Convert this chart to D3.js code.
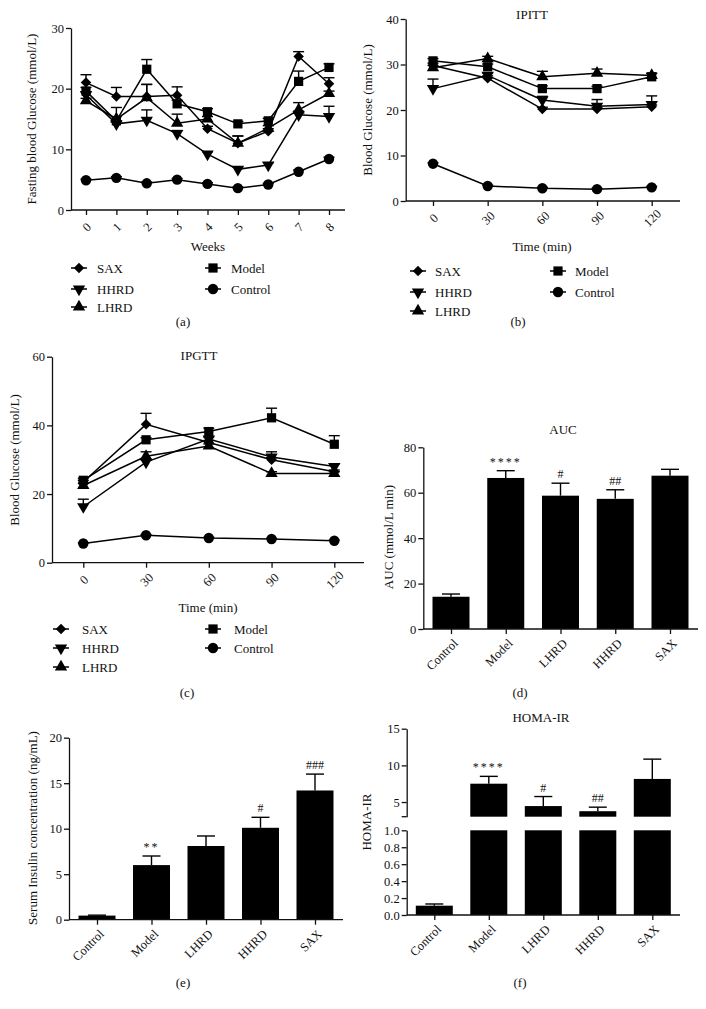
<!DOCTYPE html>
<html><head><meta charset="utf-8">
<script src="https://cdn.jsdelivr.net/npm/d3@7"></script>
<style>
body{margin:0;background:#fff}
svg{display:block}
text{font-family:"Liberation Serif","Times New Roman",serif;fill:#111}
</style>
</head><body>
<svg id="chart" width="706" height="1009"></svg>
<script>
// ---------- DATA ----------
const weeks = [0,1,2,3,4,5,6,7,8];
const weekTicks = ["0","1","2","3","4","5","6","7","8"];
const fbgSAX      = [21.0,18.7,18.7,18.9,13.4,11.0,13.0,25.3,20.8];
const fbgSAXErr   = [1.3,1.5,2.0,1.4,0.4,1.2,0.4,0.8,1.0];
const fbgModel    = [19.6,14.7,23.2,17.5,16.2,14.2,14.7,21.2,23.5];
const fbgModelErr = [0.6,2.2,1.6,0.6,0.5,0.4,0.4,1.7,0.6];
const fbgHHRD     = [19.0,14.2,14.8,12.6,9.2,6.7,7.4,15.7,15.4];
const fbgHHRDErr  = [0.5,0.4,1.7,0.5,0.4,0.4,0.4,0.6,1.7];
const fbgLHRD     = [18.0,15.0,18.5,14.3,15.0,11.0,13.5,16.5,19.2];
const fbgLHRDErr  = [0.4,0.4,2.2,1.5,0.4,1.2,0.4,1.2,0.4];
const fbgControl  = [4.9,5.3,4.4,5.0,4.3,3.6,4.2,6.3,8.4];
const fbgControlErr = [0.2,0.2,0.2,0.2,0.2,0.2,0.2,0.3,0.3];

const times = [0,30,60,90,120];
const timeTicks = ["0","30","60","90","120"];
const ipittSAX      = [29.8,27.0,20.2,20.2,20.7];
const ipittSAXErr   = [0.5,0.5,0.4,0.4,0.4];
const ipittModel    = [30.8,29.5,24.7,24.7,27.3];
const ipittModelErr = [0.5,0.6,0.6,0.5,0.7];
const ipittHHRD     = [24.7,27.6,22.2,20.8,21.2];
const ipittHHRDErr  = [2.1,0.5,0.8,1.5,1.9];
const ipittLHRD     = [29.3,31.3,27.3,28.1,27.6];
const ipittLHRDErr  = [0.5,0.5,1.2,0.9,0.5];
const ipittControl  = [8.2,3.3,2.8,2.6,3.0];
const ipittControlErr = [0.2,0.2,0.2,0.2,0.2];

const ipgttSAX      = [23.5,40.3,35.0,30.0,26.5];
const ipgttSAXErr   = [0.5,3.2,0.6,0.6,0.5];
const ipgttModel    = [24.0,35.8,38.2,42.2,34.5];
const ipgttModelErr = [0.6,0.6,1.0,2.8,2.5];
const ipgttHHRD     = [16.3,29.3,36.0,30.8,28.0];
const ipgttHHRDErr  = [2.2,0.6,0.6,1.5,0.8];
const ipgttLHRD     = [22.5,31.0,34.0,26.0,26.0];
const ipgttLHRDErr  = [0.6,1.3,0.6,0.5,0.5];
const ipgttControl  = [5.6,8.0,7.2,6.9,6.4];
const ipgttControlErr = [0.2,0.2,0.2,0.2,0.2];

const seriesNames = ["SAX","Model","HHRD","Control","LHRD"];
const groups = ["Control","Model","LHRD","HHRD","SAX"];
const aucValues = [14.2,66.5,58.7,57.3,67.5];
const aucErr    = [1.2,3.2,5.5,4.0,2.8];
const aucMarks  = ["","****","#","##",""];
const insulinValues = [0.45,6.0,8.1,10.1,14.2];
const insulinErr    = [0.05,1.0,1.1,1.15,1.8];
const insulinMarks  = ["","**","","#","###"];
const homaValues = [0.11,7.5,4.45,3.75,8.15];
const homaErr    = [0.02,1.0,1.3,0.55,2.7];
const homaMarks  = ["","****","#","##",""];
const homaUpperTicks = [5,10,15];
const homaLowerTicks = [0,0.2,0.4,0.6,0.8,1.0];

// ---------- HELPERS ----------
const svg = d3.select("#chart");
const FS_TICK = 12.5, FS_LAB = 13, FS_LEG = 13;
const shapeOf = {SAX:"diamond", Model:"square", HHRD:"down", LHRD:"up", Control:"circle"};

function marker(g, type, x, y){
  let p, rot = 0;
  if(type==="diamond"){ p = d3.symbol(d3.symbolSquare, 55)(); rot = 45; }
  else if(type==="square"){ p = d3.symbol(d3.symbolSquare, 85)(); }
  else if(type==="up"){ p = d3.symbol(d3.symbolTriangle, 66)(); }
  else if(type==="down"){ p = d3.symbol(d3.symbolTriangle, 66)(); rot = 180; }
  else { p = d3.symbol(d3.symbolCircle, 85)(); }
  g.append("path").attr("d", p).attr("fill","#000")
    .attr("transform", `translate(${x},${y}) rotate(${rot})`);
}

function yAxis(g, scale, x, ticks, fmt){
  const ax = d3.axisLeft(scale).tickValues(ticks).tickSize(5).tickSizeOuter(0).tickFormat(fmt || d3.format("d"));
  const a = g.append("g").attr("transform",`translate(${x},0)`).call(ax);
  a.attr("font-family",null);
  a.selectAll("path,line").attr("stroke","#111").attr("stroke-width",1.3);
  a.selectAll("text").attr("font-size",FS_TICK).attr("font-family","Liberation Serif").attr("fill","#111").attr("x",-7);
  return a;
}

function vLabel(g, txt, x, y){
  g.append("text").attr("transform",`translate(${x},${y}) rotate(-90)`)
   .attr("text-anchor","middle").attr("font-size",FS_LAB).text(txt);
}
function cText(g, txt, x, y, size){
  g.append("text").attr("x",x).attr("y",y).attr("text-anchor","middle")
   .attr("font-size",size||FS_LAB).text(txt);
}

function linePanel(opt){
  const g = svg.append("g");
  const x = d3.scaleLinear().domain(opt.xDomain).range(opt.xRange);
  const y = d3.scaleLinear().domain(opt.yDomain).range(opt.yRange);
  g.append("line").attr("x1",opt.axisX0).attr("x2",opt.axisX1)
    .attr("y1",y(0)).attr("y2",y(0)).attr("stroke","#111").attr("stroke-width",1.3);
  const xa = d3.axisBottom(x).tickValues(opt.xVals).tickSize(5).tickFormat((d,i)=>opt.xTicks[i]);
  const xg = g.append("g").attr("transform",`translate(0,${y(0)})`).call(xa);
  xg.attr("font-family",null);
  xg.select(".domain").remove();
  xg.selectAll("line").attr("stroke","#111").attr("stroke-width",1.3);
  xg.selectAll("text").attr("font-size",FS_TICK).attr("font-family","Liberation Serif").attr("fill","#111")
    .attr("text-anchor","middle").attr("y",0).attr("dy","0.35em")
    .attr("transform","translate(0,17) rotate(-45)");
  yAxis(g, y, opt.axisX0, opt.yTicks);
  opt.series.forEach(s=>{
    const line = d3.line().x((d,i)=>x(opt.xVals[i])).y(d=>y(d));
    g.append("path").attr("d", line(s.values)).attr("fill","none")
      .attr("stroke","#000").attr("stroke-width",1.5);
    s.values.forEach((v,i)=>{
      const cx = x(opt.xVals[i]), top = y(v + s.err[i]);
      g.append("line").attr("x1",cx).attr("x2",cx).attr("y1",y(v)).attr("y2",top)
        .attr("stroke","#000").attr("stroke-width",1.4);
      g.append("line").attr("x1",cx-5.5).attr("x2",cx+5.5).attr("y1",top).attr("y2",top)
        .attr("stroke","#000").attr("stroke-width",1.4);
    });
  });
  opt.series.forEach(s=>{
    s.values.forEach((v,i)=> marker(g, shapeOf[s.name], x(opt.xVals[i]), y(v)));
  });
  if(opt.title) cText(g, opt.title, opt.titleX, opt.titleY);
  vLabel(g, opt.yLabel, opt.yLabelX, opt.yLabelY);
  cText(g, opt.xLabel, opt.xLabelX, opt.xLabelY);
  const L = opt.legend;
  const items = [["SAX",L.c1,L.r[0]],["HHRD",L.c1,L.r[1]],["LHRD",L.c1,L.r[2]],["Model",L.c2,L.r[0]],["Control",L.c2,L.r[1]]];
  items.forEach(([nm,cx,cy])=>{
    g.append("line").attr("x1",cx-8).attr("x2",cx+8).attr("y1",cy).attr("y2",cy)
      .attr("stroke","#000").attr("stroke-width",1.5);
    marker(g, shapeOf[nm], cx, cy);
    g.append("text").attr("x",cx+L.gap).attr("y",cy).attr("dy","0.35em")
      .attr("font-size",FS_LEG).text(nm);
  });
  cText(g, opt.panel, opt.panelX, opt.panelY);
}

function barMarks(g, cx, top, mark){
  if(!mark) return;
  g.append("text").attr("x",cx).attr("y",top-5).attr("text-anchor","middle")
    .attr("font-size",12).attr("fill","#333").attr("letter-spacing",mark[0]==="*"?2:0).text(mark);
}

function catAxis(g, x, y0, axX0, axX1){
  g.append("line").attr("x1",axX0).attr("x2",axX1).attr("y1",y0).attr("y2",y0)
    .attr("stroke","#111").attr("stroke-width",1.3);
  const xa = d3.axisBottom(x).tickSize(5);
  const xg = g.append("g").attr("transform",`translate(0,${y0})`).call(xa);
  xg.attr("font-family",null);
  xg.select(".domain").remove();
  xg.selectAll("line").attr("stroke","#111").attr("stroke-width",1.3);
  xg.selectAll("text").attr("font-size",FS_TICK).attr("font-family","Liberation Serif").attr("fill","#111")
    .attr("text-anchor","end").attr("y",0).attr("dy","0.35em")
    .attr("transform","translate(4,12) rotate(-45)");
}

function barPanel(opt){
  const g = svg.append("g");
  const x = d3.scalePoint().domain(groups).range(opt.xRange);
  const y = d3.scaleLinear().domain(opt.yDomain).range(opt.yRange);
  const bw = 37;
  opt.values.forEach((v,i)=>{
    const cx = x(groups[i]);
    const top = y(v + opt.err[i]);
    g.append("line").attr("x1",cx).attr("x2",cx).attr("y1",y(v)).attr("y2",top).attr("stroke","#000").attr("stroke-width",1.4);
    g.append("line").attr("x1",cx-9).attr("x2",cx+9).attr("y1",top).attr("y2",top).attr("stroke","#000").attr("stroke-width",1.4);
    g.append("rect").attr("x",cx-bw/2).attr("width",bw).attr("y",y(v)).attr("height",y(0)-y(v)).attr("fill","#000");
    barMarks(g, cx, top, opt.marks[i]);
  });
  catAxis(g, x, y(0), opt.axisX0, opt.axisX1);
  yAxis(g, y, opt.axisX0, opt.yTicks);
  if(opt.title) cText(g, opt.title, opt.titleX, opt.titleY);
  vLabel(g, opt.yLabel, opt.yLabelX, opt.yLabelY);
  cText(g, opt.panel, opt.panelX, opt.panelY);
}

const mk = (names, arrs, errs) => names.map((n,i)=>({name:n, values:arrs[i], err:errs[i]}));

// (a)
linePanel({
  xDomain:[0,8], xRange:[86,329], yDomain:[0,30], yRange:[210,28],
  axisX0:71, axisX1:345, xVals:weeks, xTicks:weekTicks, yTicks:[0,10,20,30],
  series: mk(seriesNames,[fbgSAX,fbgModel,fbgHHRD,fbgControl,fbgLHRD],[fbgSAXErr,fbgModelErr,fbgHHRDErr,fbgControlErr,fbgLHRDErr]),
  yLabel:"Fasting blood Glucose (mmol/L)", yLabelX:36, yLabelY:119,
  xLabel:"Weeks", xLabelX:208, xLabelY:251,
  legend:{c1:79,c2:213,r:[268,289,307],gap:18},
  panel:"(a)", panelX:183, panelY:326
});
// (b)
linePanel({
  xDomain:[0,120], xRange:[433,651.7], yDomain:[0,40], yRange:[201,19],
  axisX0:405.7, axisX1:680, xVals:times, xTicks:timeTicks, yTicks:[0,10,20,30,40],
  series: mk(seriesNames,[ipittSAX,ipittModel,ipittHHRD,ipittControl,ipittLHRD],[ipittSAXErr,ipittModelErr,ipittHHRDErr,ipittControlErr,ipittLHRDErr]),
  title:"IPITT", titleX:532, titleY:19,
  yLabel:"Blood Glucose (mmol/L)", yLabelX:372, yLabelY:110,
  xLabel:"Time (min)", xLabelX:542, xLabelY:251,
  legend:{c1:418,c2:558,r:[271,292,311],gap:17},
  panel:"(b)", panelX:518, panelY:326
});
// (c)
linePanel({
  xDomain:[0,120], xRange:[83.3,334.3], yDomain:[0,60], yRange:[562.7,356.7],
  axisX0:52, axisX1:364, xVals:times, xTicks:timeTicks, yTicks:[0,20,40,60],
  series: mk(seriesNames,[ipgttSAX,ipgttModel,ipgttHHRD,ipgttControl,ipgttLHRD],[ipgttSAXErr,ipgttModelErr,ipgttHHRDErr,ipgttControlErr,ipgttLHRDErr]),
  title:"IPGTT", titleX:199, titleY:360,
  yLabel:"Blood Glucose (mmol/L)", yLabelX:19, yLabelY:460,
  xLabel:"Time (min)", xLabelX:208, xLabelY:612,
  legend:{c1:61,c2:213,r:[629,648,667],gap:21},
  panel:"(c)", panelX:187, panelY:697
});
// (d)
barPanel({
  xRange:[451,670], yDomain:[0,80], yRange:[629,447.3], axisX0:423.3, axisX1:698,
  values:aucValues, err:aucErr, marks:aucMarks, yTicks:[0,20,40,60,80],
  title:"AUC", titleX:563, titleY:434,
  yLabel:"AUC (mmol/L min)", yLabelX:393, yLabelY:537,
  panel:"(d)", panelX:520, panelY:697
});
// (e)
barPanel({
  xRange:[97,315], yDomain:[0,20], yRange:[919.7,737.7], axisX0:69, axisX1:343,
  values:insulinValues, err:insulinErr, marks:insulinMarks, yTicks:[0,5,10,15,20],
  yLabel:"Serum Insulin concentration (ng/mL)", yLabelX:37, yLabelY:828,
  panel:"(e)", panelX:183, panelY:987
});
// (f) broken axis
(function(){
  const g = svg.append("g");
  const x = d3.scalePoint().domain(groups).range([434.3,652.3]);
  const yU = d3.scaleLinear().domain([3,15]).range([816.7,728.7]);
  const yL = d3.scaleLinear().domain([0,1]).range([915,830.3]);
  const bw = 37, ax0 = 406.7;
  homaValues.forEach((v,i)=>{
    const cx = x(groups[i]);
    if(v > 1){
      const top = yU(v + homaErr[i]);
      g.append("line").attr("x1",cx).attr("x2",cx).attr("y1",yU(v)).attr("y2",top).attr("stroke","#000").attr("stroke-width",1.4);
      g.append("line").attr("x1",cx-9).attr("x2",cx+9).attr("y1",top).attr("y2",top).attr("stroke","#000").attr("stroke-width",1.4);
      g.append("rect").attr("x",cx-bw/2).attr("width",bw).attr("y",yU(v)).attr("height",yU(3)-yU(v)).attr("fill","#000");
      g.append("rect").attr("x",cx-bw/2).attr("width",bw).attr("y",yL(1)).attr("height",yL(0)-yL(1)).attr("fill","#000");
      barMarks(g, cx, top, homaMarks[i]);
    } else {
      const top = yL(v + homaErr[i]);
      g.append("line").attr("x1",cx).attr("x2",cx).attr("y1",yL(v)).attr("y2",top).attr("stroke","#000").attr("stroke-width",1.4);
      g.append("line").attr("x1",cx-9).attr("x2",cx+9).attr("y1",top).attr("y2",top).attr("stroke","#000").attr("stroke-width",1.4);
      g.append("rect").attr("x",cx-bw/2).attr("width",bw).attr("y",yL(v)).attr("height",yL(0)-yL(v)).attr("fill","#000");
    }
  });
  catAxis(g, x, yL(0), ax0, 680);
  yAxis(g, yU, ax0, homaUpperTicks);
  g.append("line").attr("x1",ax0-5).attr("x2",ax0).attr("y1",yU(3)).attr("y2",yU(3)).attr("stroke","#111").attr("stroke-width",1.3);
  yAxis(g, yL, ax0, homaLowerTicks, d3.format(".1f"));
  cText(g, "HOMA-IR", 541, 722);
  vLabel(g, "HOMA-IR", 371, 822);
  cText(g, "(f)", 520, 987);
})();
</script>
</body></html>
